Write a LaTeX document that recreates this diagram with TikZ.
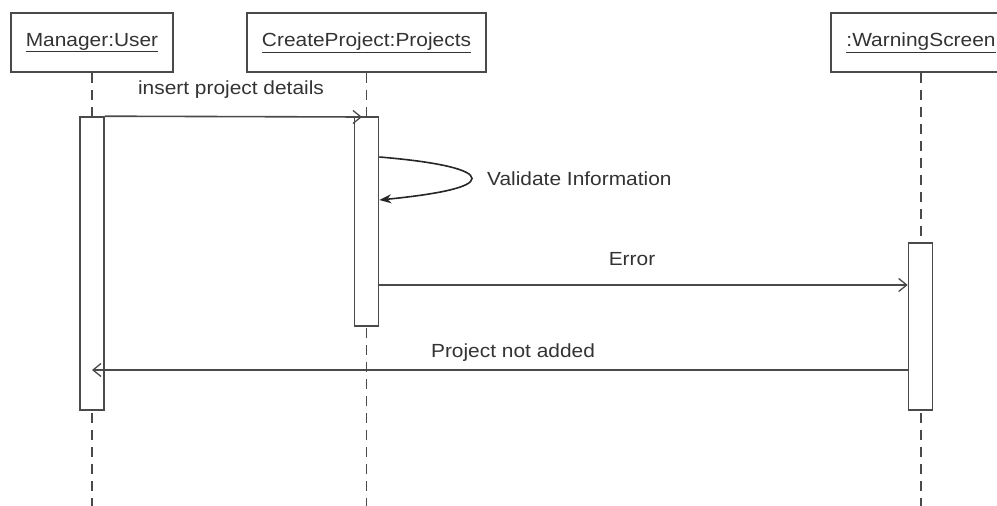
\documentclass[tikz,border=0pt]{standalone}
\usepackage{fontspec}
\setmainfont[FakeStretch=1.1]{Liberation Sans}
\usetikzlibrary{arrows.meta}
\definecolor{ink}{HTML}{333333}
\definecolor{ln}{HTML}{4A4A4A}
\tikzset{
  objbox/.style={draw=ln, line width=1.8pt, fill=white, minimum height=59pt, inner sep=0pt, text=ink, font=\fontsize{19}{22}\selectfont},
  actbar/.style={draw=ln, line width=1.6pt, fill=white, minimum width=24pt, inner sep=0pt},
  lifeline/.style={draw=ln, line width=1.4pt, dash pattern=on 10pt off 7pt},
  msg/.style={draw=ln, line width=1.6pt, -{Straight Barb[length=8pt,width=13pt,line width=1.3pt]}},
  selfmsg/.style={draw=black!85, line width=1.6pt, -{Stealth[length=12pt,width=9pt]}},
  lbl/.style={text=ink, font=\fontsize{19}{22}\selectfont, inner sep=0pt}
}
\begin{document}
\begin{tikzpicture}[x=1pt,y=-1pt]
\useasboundingbox (0,0) rectangle (997,506);
\clip (0,0) rectangle (997,506);
\fill[white] (0,0) rectangle (997,506);
% objects
\node[objbox, minimum width=162pt] (user) at (92,42.5) {\underline{Manager:User}};
\node[objbox, minimum width=239pt] (proj) at (366.5,42.5) {\underline{CreateProject:Projects}};
\node[objbox, minimum width=180pt] (warn) at (921,42.5) {\underline{:WarningScreen}\hspace{6pt}};
% lifeline ends
\coordinate (userEnd) at (92,506);
\coordinate (projEnd) at (366.5,506);
\coordinate (warnEnd) at (921,506);
\draw[lifeline] (user.south) -- (userEnd);
\draw[lifeline] (proj.south) -- (projEnd);
\draw[lifeline] (warn.south) -- (warnEnd);
% activation bars
\node[actbar, minimum height=293pt] (ubar) at (92,263.5) {};
\node[actbar, minimum height=209pt] (pbar) at (366.5,221.5) {};
\node[actbar, minimum height=167pt] (wbar) at (920.5,326.5) {};
% message points
\coordinate (insB) at (362,117);
\coordinate (selfA) at (pbar.east |- 0,157);
\coordinate (selfB) at (pbar.east |- 0,200);
\coordinate (errA) at (pbar.east |- 0,285);
\coordinate (errB) at (wbar.west |- 0,285);
\coordinate (naA) at (wbar.west |- 0,370);
\coordinate (naB) at (ubar.center |- 0,370);
% messages
\draw[msg] (ubar.north east) -- (insB);
\node[lbl] (m1) at (231,90) {insert project details};
\draw[selfmsg] (selfA) .. controls (440,162) and (472,170) .. (472,178.5) .. controls (472,187) and (440,194) .. (selfB);
\node[lbl, anchor=west] (m2) at (487,179) {Validate Information};
\draw[msg] (errA) -- (errB);
\node[lbl] (m3) at (632,259) {Error};
\draw[msg] (naA) -- (naB);
\node[lbl] (m4) at (513,353) {Project not added};
\end{tikzpicture}
\end{document}
